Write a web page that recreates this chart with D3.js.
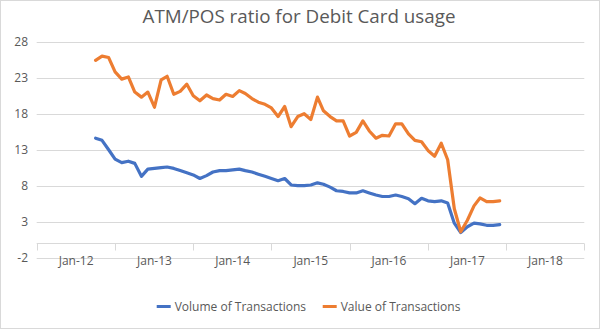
<!DOCTYPE html>
<html><head><meta charset="utf-8">
<script src="https://cdn.jsdelivr.net/npm/d3@7"></script>
<style>body{margin:0;background:#fff}svg{display:block}</style>
</head><body>
<script>
const months = ["2012-04","2012-05","2012-06","2012-07","2012-08","2012-09","2012-10","2012-11","2012-12",
"2013-01","2013-02","2013-03","2013-04","2013-05","2013-06","2013-07","2013-08","2013-09","2013-10","2013-11","2013-12",
"2014-01","2014-02","2014-03","2014-04","2014-05","2014-06","2014-07","2014-08","2014-09","2014-10","2014-11","2014-12",
"2015-01","2015-02","2015-03","2015-04","2015-05","2015-06","2015-07","2015-08","2015-09","2015-10","2015-11","2015-12",
"2016-01","2016-02","2016-03","2016-04","2016-05","2016-06","2016-07","2016-08","2016-09","2016-10","2016-11","2016-12",
"2017-01","2017-02","2017-03","2017-04","2017-05","2017-06"];
const volume = [14.6,14.3,13.0,11.7,11.2,11.4,11.1,9.3,10.3,10.4,10.5,10.6,10.4,10.1,9.8,9.5,9.0,9.4,9.9,10.1,10.1,
10.2,10.3,10.1,9.9,9.6,9.3,9.0,8.7,9.0,8.1,8.0,8.0,8.1,8.4,8.2,7.8,7.3,7.2,7.0,7.0,7.3,7.0,6.7,6.5,6.5,6.7,6.5,6.2,
5.5,6.25,5.9,5.8,5.9,5.6,2.8,1.5,2.3,2.8,2.7,2.5,2.5,2.6];
const value = [25.4,26.0,25.8,23.8,22.8,23.1,21.0,20.3,21.0,18.9,22.7,23.2,20.7,21.1,22.1,20.5,19.8,20.6,20.1,19.9,20.7,
20.4,21.2,20.8,20.1,19.6,19.3,18.8,17.6,19.0,16.2,17.6,18.0,17.2,20.3,18.4,17.6,17.0,17.0,14.9,15.4,17.0,15.6,14.6,15.0,
14.9,16.6,16.6,15.2,14.3,14.1,12.9,12.1,13.9,11.6,4.8,1.6,3.2,5.2,6.3,5.8,5.8,5.9];
const yTicks = [-2,3,8,13,18,23,28];
const xLabels = ["Jan-12","Jan-13","Jan-14","Jan-15","Jan-16","Jan-17","Jan-18"];
const seriesNames = ["Volume of Transactions","Value of Transactions"];
const colors = ["#4472C4","#ED7D31"];

const W = 600, H = 329;
const svg = d3.select("body").append("svg").attr("width", W).attr("height", H);
const font = "'Open Sans', 'Noto Sans', sans-serif";
const textCol = "#595959";

svg.append("rect").attr("x",0.5).attr("y",0.5).attr("width",W-1).attr("height",H-1)
  .attr("fill","#fff").attr("stroke","#D9D9D9");

const parse = d3.timeParse("%Y-%m");
const x = d3.scaleTime().domain([new Date(2011,6,1), new Date(2018,6,1)]).range([36.7, 584.3]);
const y = d3.scaleLinear().domain([-2, 28]).range([257.7, 41.7]);

// gridlines
svg.append("g").selectAll("line").data(yTicks).join("line")
  .attr("x1", x.range()[0]).attr("x2", x.range()[1])
  .attr("y1", d => Math.round(y(d))+0.5).attr("y2", d => Math.round(y(d))+0.5)
  .attr("stroke", "#D9D9D9").attr("stroke-width", 1);

// y labels
svg.append("g").selectAll("text").data(yTicks).join("text")
  .attr("x", 28).attr("y", d => y(d)).attr("dy","0.35em")
  .attr("text-anchor","end").attr("font-family",font).attr("font-size",12)
  .attr("fill",textCol).text(d => d);

// x axis at 0
const xAxisG = svg.append("g").attr("transform", `translate(0,${Math.round(y(0))+0.5})`);
const tickDates = d3.range(2011, 2019).map(yr => new Date(yr, 6, 1));
xAxisG.append("line").attr("x1", x.range()[0]).attr("x2", x.range()[1]).attr("stroke","#D9D9D9");
xAxisG.selectAll("line.tick").data(tickDates).join("line").attr("class","tick")
  .attr("x1", d => Math.round(x(d))+0.5).attr("x2", d => Math.round(x(d))+0.5)
  .attr("y1",0).attr("y2",7).attr("stroke","#D9D9D9");
const labelDates = xLabels.map(s => d3.timeParse("%b-%y")(s));
svg.append("g").selectAll("text").data(xLabels).join("text")
  .attr("x", (d,i) => x(labelDates[i])).attr("y", 261).attr("dy","0.35em")
  .attr("text-anchor","middle").attr("font-family",font).attr("font-size",12)
  .attr("fill",textCol).text(d => d);

// lines
const dates = months.map(parse);
[volume, value].forEach((vals, k) => {
  const line = d3.line().x((d,i) => x(dates[i])).y(d => y(d));
  svg.append("path").datum(vals).attr("d", line)
    .attr("fill","none").attr("stroke",colors[k]).attr("stroke-width",3.2)
    .attr("stroke-linejoin","round").attr("stroke-linecap","round");
});

// title
svg.append("text").attr("x", 299).attr("y", 23).attr("text-anchor","middle")
  .attr("font-family",font).attr("font-size",18.8).attr("fill",textCol)
  .text("ATM/POS ratio for Debit Card usage");

// legend
const legX = [156.7, 322.7];
seriesNames.forEach((name, k) => {
  const g = svg.append("g").attr("transform", `translate(${legX[k]},306.5)`);
  g.append("line").attr("x1",0).attr("x2",14).attr("stroke",colors[k]).attr("stroke-width",3);
  g.append("text").attr("x",18).attr("dy","0.35em").attr("font-family",font)
    .attr("font-size",12).attr("fill",textCol).text(name);
});
</script>
</body></html>
